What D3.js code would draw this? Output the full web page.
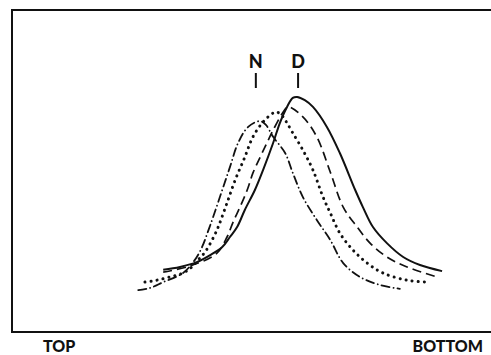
<!DOCTYPE html>
<html lang="en">
<head>
	<meta charset="UTF-8">
	<title>profiles top to bottom</title>
	<script src="https://d3js.org/d3.v7.min.js"></script>
	<style type="text/css">
		body { margin: 0; background: #fff; }
		svg { display: block; }
		.lbl { font-family: Lato, "DejaVu Sans", sans-serif; font-weight: 900; fill: #111; }
		.curve { fill: none; stroke: #111; }
	</style>
</head>
<body>
<script type="text/javascript">

	// position across the section (0 = top edge of frame, 100 = right edge) and relative amount
	var solidX  = [31.5, 35.0, 38.5, 41.3, 43.8, 45.4, 46.9, 48.5, 50.6, 52.3, 54.4, 55.8, 57.3, 58.5, 59.4, 61.0, 62.7, 65.6, 68.3, 71.5, 73.1, 75.2, 78.1, 81.5, 85.0, 89.6];
	var solidY  = [19.3, 20.2, 21.7, 23.9, 26.4, 29.5, 32.6, 37.9, 44.1, 50.3, 58.7, 64.9, 69.9, 72.7, 73.0, 72.0, 69.9, 63.7, 55.6, 44.1, 38.8, 32.6, 27.6, 23.3, 20.8, 18.9];

	var dashX   = [31.5, 37.1, 42.7, 44.8, 46.0, 47.5, 49.0, 50.2, 51.7, 53.1, 54.4, 56.5, 57.5, 60.6, 63.5, 66.3, 69.0, 71.9, 74.6, 78.1, 82.3, 88.5];
	var dashY   = [18.6, 20.5, 24.5, 29.5, 33.9, 38.8, 44.1, 49.4, 54.3, 58.7, 62.7, 68.3, 69.9, 66.8, 60.6, 49.7, 38.8, 32.6, 27.6, 23.3, 20.2, 17.1];

	var dotX    = [27.7, 30.2, 32.9, 35.6, 37.5, 38.8, 40.2, 41.7, 42.7, 43.3, 44.8, 46.5, 48.5, 50.2, 52.3, 54.4, 55.2, 56.3, 57.3, 58.5, 60.6, 62.7, 64.8, 66.3, 68.3, 71.0, 74.0, 77.3, 82.3, 86.5];
	var dotY    = [15.5, 16.1, 17.1, 18.3, 20.2, 22.4, 24.8, 28.6, 31.7, 33.9, 40.1, 47.2, 54.3, 60.6, 65.2, 68.0, 68.3, 67.1, 64.9, 61.8, 56.5, 50.3, 41.9, 37.0, 30.7, 25.5, 21.4, 18.3, 16.1, 15.5];

	var dashDotX = [26.3, 28.8, 31.5, 35.6, 38.1, 39.6, 40.8, 41.9, 43.8, 45.4, 47.1, 49.2, 51.7, 52.9, 54.4, 56.9, 58.5, 60.6, 63.5, 66.3, 69.0, 72.5, 76.7, 80.8];
	var dashDotY = [13.0, 13.7, 15.5, 18.3, 22.4, 26.4, 31.1, 35.7, 44.1, 51.2, 58.7, 63.7, 65.5, 64.3, 60.6, 55.6, 49.4, 41.9, 34.8, 28.6, 21.4, 17.1, 14.6, 13.4];

	var markNames = ['N', 'D'];
	var markX = [50.8, 59.6];
	var endLabels = ['TOP', 'BOTTOM'];

	window.onload = function () {

		var W = 491, H = 355;
		var frame = {left: 12, top: 10, right: 496, bottom: 332};

		var svg = d3.select('body').append('svg')
			.attr('width', W)
			.attr('height', H);

		var x = d3.scaleLinear().domain([0, 100]).range([frame.left, 492]);
		var y = d3.scaleLinear().domain([0, 100]).range([frame.bottom, frame.top]);

		// frame
		svg.append('rect')
			.attr('x', frame.left)
			.attr('y', frame.top)
			.attr('width', frame.right - frame.left)
			.attr('height', frame.bottom - frame.top)
			.style('fill', 'none')
			.style('stroke', '#111')
			.style('stroke-width', 2);

		var line = d3.line()
			.x(function (d) { return x(d[0]); })
			.y(function (d) { return y(d[1]); })
			.curve(d3.curveCatmullRom.alpha(0.5));

		function pts(xs, ys) { return xs.map(function (v, i) { return [v, ys[i]]; }); }

		var series = [
			{pts: pts(dashDotX, dashDotY), dash: '8,4,0.1,4', width: 1.8, cap: 'round'},
			{pts: pts(dotX, dotY), dash: '0.1,6', width: 3, cap: 'round'},
			{pts: pts(dashX, dashY), dash: '9,5', width: 1.7, cap: 'butt'},
			{pts: pts(solidX, solidY), dash: null, width: 2, cap: 'butt'}
		];

		svg.selectAll('.curve')
			.data(series)
			.enter().append('path')
			.attr('class', 'curve')
			.attr('d', function (d) { return line(d.pts); })
			.style('stroke-width', function (d) { return d.width; })
			.style('stroke-dasharray', function (d) { return d.dash; })
			.style('stroke-linecap', function (d) { return d.cap; });

		// N and D markers
		var marks = svg.selectAll('.mark')
			.data(markNames)
			.enter().append('g')
			.attr('class', 'mark')
			.attr('transform', function (d, i) { return 'translate(' + x(markX[i]) + ',0)'; });
		marks.append('text')
			.attr('class', 'lbl')
			.attr('y', 68)
			.style('text-anchor', 'middle')
			.style('font-size', '18px')
			.text(function (d) { return d; });
		marks.append('line')
			.attr('y1', 73).attr('y2', 88)
			.style('stroke', '#111')
			.style('stroke-width', 2);

		// end labels under the frame
		svg.append('text')
			.attr('class', 'lbl')
			.attr('x', 43)
			.attr('y', 352)
			.style('font-size', '16px')
			.text(endLabels[0]);
		svg.append('text')
			.attr('class', 'lbl')
			.attr('x', 483)
			.attr('y', 352)
			.style('text-anchor', 'end')
			.style('font-size', '16px')
			.text(endLabels[1]);
	};

</script>
</body>
</html>
